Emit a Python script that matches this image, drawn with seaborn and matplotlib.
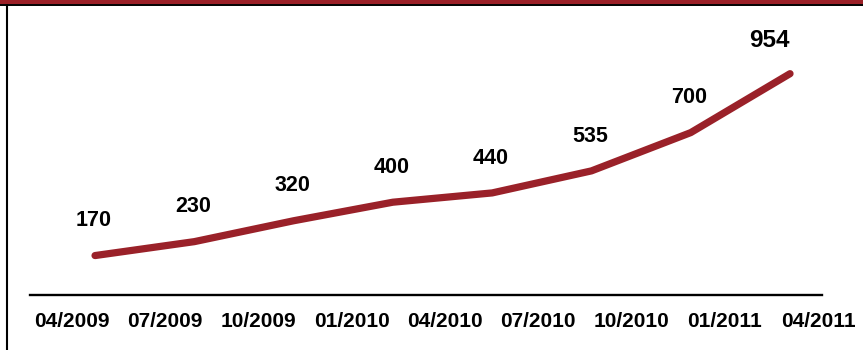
import matplotlib
matplotlib.use("Agg")
import matplotlib.pyplot as plt
import seaborn as sns
import pandas as pd
from matplotlib.lines import Line2D
from matplotlib.patches import Rectangle

# Cumulative count per quarter
values = [170, 230, 320, 400, 440, 535, 700, 954]
quarters = ["04/2009", "07/2009", "10/2009", "01/2010", "04/2010",
            "07/2010", "10/2010", "01/2011", "04/2011"]

LINE_RED = "#9A2129"

sns.set_theme(style="white")
plt.rcParams["font.family"] = ["Liberation Sans", "DejaVu Sans"]

df = pd.DataFrame({"idx": range(len(values)), "value": values})

W, H = 863, 350
fig = plt.figure(figsize=(W / 100, H / 100), dpi=100)
fig.patch.set_facecolor("white")

# Main plotting area
ax = fig.add_axes([30 / W, 55 / H, 792 / W, 290 / H])
sns.lineplot(data=df, x="idx", y="value", ax=ax, color=LINE_RED,
             linewidth=5.2, solid_capstyle="round", solid_joinstyle="round")
ax.set_xlim(-0.655, 7.322)
ax.set_ylim(0, 1250)
ax.set_xticks([])
ax.set_yticks([])
ax.set_xlabel("")
ax.set_ylabel("")
for side in ("top", "right", "left"):
    ax.spines[side].set_visible(False)
ax.spines["bottom"].set_color("black")
ax.spines["bottom"].set_linewidth(1.7)

# Value labels above each point
for i, v in enumerate(values):
    if i == len(values) - 1:
        ax.annotate(str(v), (i, v), xytext=(-15, 15.5), textcoords="offset points",
                    ha="center", va="bottom", fontsize=17.5, fontweight="bold",
                    color="black")
    else:
        ax.annotate(str(v), (i, v), xytext=(-1, 17.5), textcoords="offset points",
                    ha="center", va="bottom", fontsize=15.5, fontweight="bold",
                    color="black")

# Quarter labels along the bottom
lab = fig.add_axes([25 / W, 55 / H, 840 / W, 0.001])
lab.set_xlim(-0.5, len(quarters) - 0.5)
lab.set_xticks(range(len(quarters)))
lab.set_xticklabels(quarters, fontsize=15, fontweight="bold", color="black")
lab.tick_params(axis="x", length=0, pad=12)
lab.set_yticks([])
lab.patch.set_alpha(0)
for s in lab.spines.values():
    s.set_visible(False)

# Frame: red band with dark rule on top, black rule on the left
fig.patches.append(Rectangle((0, 1 - 3.5 / H), 1, 3.5 / H, transform=fig.transFigure,
                             facecolor="#9B2027", edgecolor="none"))
fig.lines.append(Line2D([0, 1], [1 - 4.5 / H] * 2, transform=fig.transFigure,
                        color="black", linewidth=1.4))
fig.lines.append(Line2D([6.5 / W] * 2, [0, 1 - 4.5 / H], transform=fig.transFigure,
                        color="black", linewidth=1.5))

fig.savefig("out.png", dpi=100)
